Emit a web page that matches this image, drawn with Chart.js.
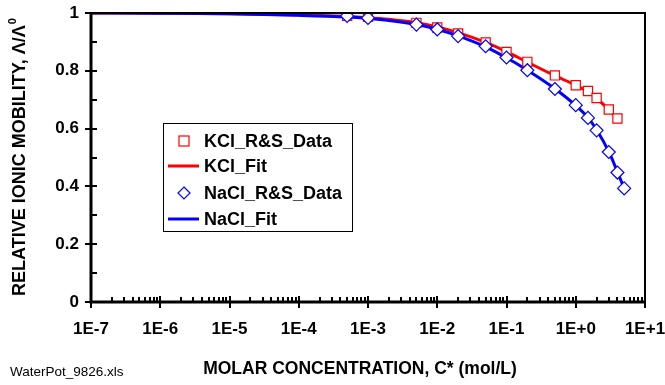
<!DOCTYPE html>
<html>
<head>
<meta charset="utf-8">
<script src="https://cdn.jsdelivr.net/npm/chart.js@4.4.0/dist/chart.umd.min.js"></script>
<style>
  html, body { margin: 0; padding: 0; background: #fff; }
  #wrap { width: 665px; height: 385px; position: relative; }
</style>
</head>
<body>
<div id="wrap"><canvas id="chart" width="665" height="385"></canvas></div>
<script>
const kclConc = [5e-4, 1e-3, 5e-3, 1e-2, 2e-2, 5e-2, 0.1, 0.2, 0.5, 1, 1.5, 2, 3, 4];
const kclData = [0.990, 0.987, 0.966, 0.950, 0.929, 0.898, 0.865, 0.831, 0.784, 0.750, 0.730, 0.706, 0.666, 0.635];
const naclConc = [5e-4, 1e-3, 5e-3, 1e-2, 2e-2, 5e-2, 0.1, 0.2, 0.5, 1, 1.5, 2, 3, 4, 5];
const naclData = [0.990, 0.983, 0.960, 0.943, 0.920, 0.885, 0.846, 0.802, 0.737, 0.681, 0.637, 0.594, 0.519, 0.448, 0.393];

// fitted curves
const fitConc = [1e-7, 1e-6, 1e-5, 1e-4, 5e-4, 1e-3, 2e-3, 5e-3, 1e-2, 2e-2, 5e-2, 0.1, 0.2, 0.5, 1, 1.5, 2, 3, 4, 5];
const kclFit = [1.0, 0.999, 0.997, 0.993, 0.988, 0.984, 0.978, 0.966, 0.952, 0.932, 0.898, 0.866, 0.830, 0.783, 0.750, 0.728, 0.705, 0.665, 0.632, null];
const naclFit = [1.0, 0.999, 0.997, 0.992, 0.986, 0.981, 0.974, 0.960, 0.944, 0.921, 0.883, 0.845, 0.802, 0.738, 0.680, 0.638, 0.596, 0.520, 0.450, 0.393];

const xTicks = [1e-7, 1e-6, 1e-5, 1e-4, 1e-3, 1e-2, 1e-1, 1, 10];
const xTickLabels = ["1E-7", "1E-6", "1E-5", "1E-4", "1E-3", "1E-2", "1E-1", "1E+0", "1E+1"];
const yTicks = [0, 0.2, 0.4, 0.6, 0.8, 1];
const yTickLabels = ["0", "0.2", "0.4", "0.6", "0.8", "1"];

const legendItems = ["KCl_R&S_Data", "KCl_Fit", "NaCl_R&S_Data", "NaCl_Fit"];

const FONT = "'Liberation Sans', Arial, sans-serif";

function pts(xs, ys) {
  return xs.map((x, i) => ({ x: x, y: ys[i] })).filter(p => p.y !== null);
}

function drawDiamond(ctx, x, y, r) {
  ctx.beginPath();
  ctx.moveTo(x, y - r);
  ctx.lineTo(x + r, y);
  ctx.lineTo(x, y + r);
  ctx.lineTo(x - r, y);
  ctx.closePath();
}

const axesPlugin = {
  id: 'axesPlugin',
  afterDatasetsDraw(chart) {
    const ctx = chart.ctx;
    const a = chart.chartArea;
    const xs = chart.scales.x, ys = chart.scales.y;
    ctx.save();
    ctx.strokeStyle = '#000';
    // top and right frame
    ctx.lineWidth = 2;
    ctx.beginPath();
    ctx.moveTo(a.left, a.top);
    ctx.lineTo(a.right, a.top);
    ctx.lineTo(a.right, a.bottom);
    ctx.stroke();
    // axes
    ctx.lineWidth = 3;
    ctx.beginPath();
    ctx.moveTo(a.left, a.top - 1);
    ctx.lineTo(a.left, a.bottom);
    ctx.lineTo(a.right + 1, a.bottom);
    ctx.stroke();
    // y ticks
    ctx.lineWidth = 2;
    for (let v = 0; v <= 10; v++) {
      const py = Math.round(ys.getPixelForValue(v / 10));
      ctx.beginPath();
      if (v % 2 === 0) {
        ctx.moveTo(a.left - 6, py);
        ctx.lineTo(a.left + 6, py);
      } else {
        ctx.moveTo(a.left, py);
        ctx.lineTo(a.left + 6, py);
      }
      ctx.stroke();
    }
    // x ticks
    for (let e = -7; e <= 1; e++) {
      const base = Math.pow(10, e);
      const px = Math.round(xs.getPixelForValue(base));
      ctx.beginPath();
      ctx.moveTo(px, a.bottom - 6);
      ctx.lineTo(px, a.bottom + 6);
      ctx.stroke();
      if (e < 1) {
        for (let m = 2; m <= 9; m++) {
          const mx = Math.round(xs.getPixelForValue(m * base));
          ctx.beginPath();
          ctx.moveTo(mx, a.bottom);
          ctx.lineTo(mx, a.bottom - 5);
          ctx.stroke();
        }
      }
    }
    ctx.restore();
  },
  afterDraw(chart) {
    const ctx = chart.ctx;
    const a = chart.chartArea;
    ctx.save();
    ctx.fillStyle = '#000';
    // axis titles
    ctx.font = 'bold 17.5px ' + FONT;
    ctx.textAlign = 'center';
    ctx.textBaseline = 'middle';
    ctx.fillText('MOLAR CONCENTRATION, C* (mol/L)', 360, 369);
    ctx.save();
    ctx.translate(20, (a.top + a.bottom) / 2);
    ctx.rotate(-Math.PI / 2);
    ctx.font = 'bold 18px ' + FONT;
    const t1 = 'RELATIVE IONIC MOBILITY, \u039B/\u039B';
    const w1 = ctx.measureText(t1).width;
    ctx.font = 'bold 11px ' + FONT;
    const w2 = ctx.measureText('0').width;
    const start = -(w1 + w2) / 2;
    ctx.textAlign = 'left';
    ctx.font = 'bold 18px ' + FONT;
    ctx.fillText(t1, start, 0);
    ctx.font = 'bold 11px ' + FONT;
    ctx.fillText('0', start + w1 + 1, -7);
    ctx.restore();
    // footnote
    ctx.font = '13.5px ' + FONT;
    ctx.textAlign = 'left';
    ctx.fillText('WaterPot_9826.xls', 10, 372);

    // legend
    const lx = 163, ly = 123, lw = 189, lh = 108;
    ctx.fillStyle = '#fff';
    ctx.fillRect(lx, ly, lw, lh);
    ctx.strokeStyle = '#000';
    ctx.lineWidth = 1;
    ctx.strokeRect(lx + 0.5, ly + 0.5, lw, lh);
    const rows = [141, 166, 193, 219];
    ctx.font = 'bold 18px ' + FONT;
    ctx.textBaseline = 'middle';
    legendItems.forEach((label, i) => {
      const y = rows[i];
      if (i === 0) {
        ctx.fillStyle = '#fff';
        ctx.strokeStyle = '#ff0000';
        ctx.lineWidth = 1.2;
        ctx.fillRect(179, y - 5, 10, 10);
        ctx.strokeRect(179, y - 5, 10, 10);
      } else if (i === 2) {
        ctx.fillStyle = '#fff';
        ctx.strokeStyle = '#0000ff';
        ctx.lineWidth = 1.2;
        drawDiamond(ctx, 184, y, 6);
        ctx.fill();
        ctx.stroke();
      } else {
        ctx.strokeStyle = i === 1 ? '#ff0000' : '#0000ff';
        ctx.lineWidth = 3;
        ctx.beginPath();
        ctx.moveTo(168, y);
        ctx.lineTo(199, y);
        ctx.stroke();
      }
      ctx.fillStyle = '#000';
      ctx.fillText(label, 204, y + 1);
    });
    ctx.restore();
  }
};

new Chart(document.getElementById('chart').getContext('2d'), {
  type: 'scatter',
  data: {
    datasets: [
      {
        label: 'KCl_R&S_Data',
        data: pts(kclConc, kclData),
        showLine: false,
        pointStyle: 'rect',
        pointRadius: 6.5,
        pointBorderWidth: 1.2,
        borderColor: '#ff0000',
        backgroundColor: '#ffffff',
        order: 1
      },
      {
        label: 'KCl_Fit',
        data: pts(fitConc, kclFit),
        showLine: true,
        pointRadius: 0,
        borderColor: '#ff0000',
        borderWidth: 3,
        cubicInterpolationMode: 'monotone',
        order: 3
      },
      {
        label: 'NaCl_R&S_Data',
        data: pts(naclConc, naclData),
        showLine: false,
        pointStyle: 'rectRot',
        pointRadius: 6.5,
        pointBorderWidth: 1.2,
        borderColor: '#0000ff',
        backgroundColor: '#ffffff',
        order: 0
      },
      {
        label: 'NaCl_Fit',
        data: pts(fitConc, naclFit),
        showLine: true,
        pointRadius: 0,
        borderColor: '#0000ff',
        borderWidth: 3,
        cubicInterpolationMode: 'monotone',
        order: 2
      }
    ]
  },
  options: {
    responsive: false,
    animation: false,
    layout: { padding: { top: 13, right: 20, left: 0, bottom: 0 } },
    plugins: { legend: { display: false }, tooltip: { enabled: false } },
    scales: {
      x: {
        type: 'logarithmic',
        min: 1e-7,
        max: 10,
        afterBuildTicks(scale) {
          scale.ticks = xTicks.map(v => ({ value: v }));
        },
        afterFit(scale) {
          scale.height = 83;
          scale.paddingLeft = 0;
          scale.paddingRight = 0;
        },
        grid: { display: false, drawTicks: false },
        border: { display: false },
        ticks: {
          padding: 17,
          autoSkip: false,
          maxRotation: 0,
          color: '#000',
          font: { family: FONT, size: 17, weight: 'bold' },
          callback: (v) => {
            const i = xTicks.findIndex(t => Math.abs(Math.log10(t) - Math.log10(v)) < 1e-6);
            return i >= 0 ? xTickLabels[i] : '';
          }
        }
      },
      y: {
        min: 0,
        max: 1,
        afterBuildTicks(scale) {
          scale.ticks = yTicks.map(v => ({ value: v }));
        },
        afterFit(scale) {
          scale.width = 91;
          scale.paddingTop = 0;
          scale.paddingBottom = 0;
        },
        grid: { display: false, drawTicks: false },
        border: { display: false },
        ticks: {
          padding: 12,
          color: '#000',
          font: { family: FONT, size: 17, weight: 'bold' },
          callback: (v) => {
            const i = yTicks.findIndex(t => Math.abs(t - v) < 1e-6);
            return i >= 0 ? yTickLabels[i] : '';
          }
        }
      }
    }
  },
  plugins: [axesPlugin]
});
</script>
</body>
</html>
